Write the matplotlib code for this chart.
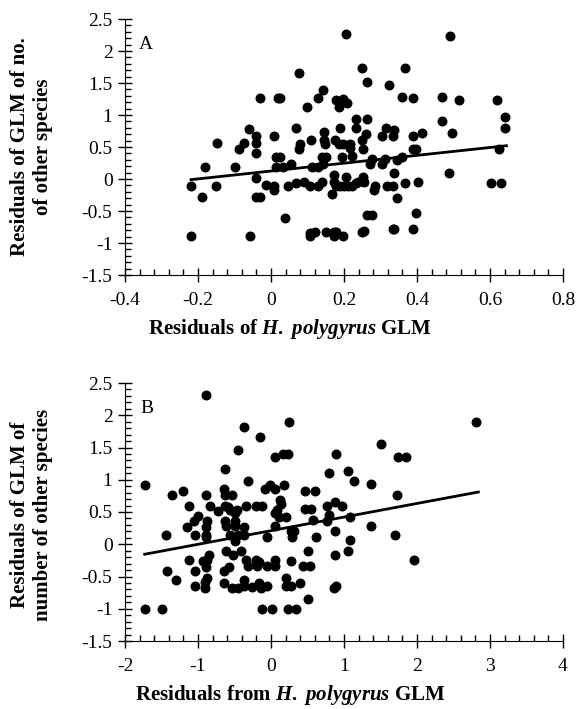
import numpy as np
import matplotlib
matplotlib.use("Agg")
import matplotlib.pyplot as plt
from matplotlib.ticker import MultipleLocator

plt.rcParams['font.family'] = 'Liberation Serif'
plt.rcParams['mathtext.fontset'] = 'custom'
plt.rcParams['mathtext.it'] = 'Liberation Serif:italic:bold'
plt.rcParams['mathtext.rm'] = 'Liberation Serif:bold'

# panel A : residuals of H. polygyrus GLM vs residuals of no. of other species
xa = [0.205, 0.49, 0.077, 0.25, 0.367, 0.263, 0.322, -0.03, 0.018, 0.025, 0.142, 0.128, 0.099,
      0.179, 0.196, 0.209, 0.186, 0.36, 0.389, 0.469, 0.514, 0.62, 0.64, 0.64, 0.469, 0.495,
      0.234, 0.263, 0.234, 0.315, 0.338, 0.304, 0.333, 0.389, 0.414, 0.26, 0.249, 0.189, 0.069,
      0.146, -0.06, -0.042, -0.042, 0.009, -0.075, -0.149, -0.089, -0.042, 0.109, 0.08, 0.077,
      0.149, 0.146, 0.175, 0.186, 0.196, 0.216, 0.216, 0.252, 0.223, 0.194, 0.139, 0.15, 0.013,
      0.025, 0.013, 0.032, 0.054, 0.113, 0.128, 0.142, -0.182, -0.1, 0.39, 0.397, 0.278, 0.271,
      0.311, 0.304, 0.344, 0.36, 0.624, 0.487, 0.338, -0.219, -0.19, -0.152, -0.042, -0.042,
      -0.031, -0.013, 0.009, 0.009, 0.047, 0.068, 0.091, 0.106, 0.128, 0.14, 0.172, 0.172, 0.179,
      0.19, 0.201, 0.212, 0.223, 0.234, 0.237, 0.252, 0.255, 0.205, 0.168, 0.285, 0.282, 0.318,
      0.333, 0.344, 0.367, 0.404, 0.602, 0.631, 0.039, -0.219, -0.057, 0.106, 0.106, 0.12, 0.15,
      0.172, 0.179, 0.172, 0.197, 0.248, 0.255, 0.263, 0.277, 0.333, 0.337, 0.389, 0.396]
ya = [2.27, 2.23, 1.66, 1.73, 1.73, 1.52, 1.47, 1.27, 1.27, 1.27, 1.39, 1.27, 1.13,
      1.23, 1.25, 1.18, 1.13, 1.28, 1.27, 1.28, 1.24, 1.24, 0.97, 0.79, 0.90, 0.72,
      0.93, 0.93, 0.79, 0.79, 0.77, 0.67, 0.67, 0.67, 0.72, 0.70, 0.61, 0.80, 0.79,
      0.74, 0.78, 0.67, 0.57, 0.67, 0.57, 0.57, 0.47, 0.40, 0.61, 0.55, 0.47,
      0.55, 0.61, 0.61, 0.55, 0.55, 0.55, 0.49, 0.47, 0.36, 0.34, 0.34, 0.34, 0.34,
      0.34, 0.19, 0.19, 0.24, 0.19, 0.19, 0.24, 0.19, 0.19, 0.47, 0.47, 0.32, 0.24,
      0.32, 0.24, 0.30, 0.34, 0.47, 0.09, 0.09, -0.11, -0.28, -0.11, 0.02, -0.28,
      -0.28, -0.09, -0.11, -0.17, -0.11, -0.07, -0.05, -0.11, -0.11, -0.05, 0.06, -0.05, -0.11,
      -0.11, -0.11, -0.11, -0.11, -0.07, -0.05, 0.03, -0.05, 0.03, -0.24, -0.11, -0.17, -0.11,
      -0.11, -0.30, -0.07, -0.05, -0.07, -0.07, -0.61, -0.89, -0.89, -0.85, -0.89, -0.83, -0.83,
      -0.83, -0.83, -0.89, -0.89, -0.83, -0.81, -0.57, -0.57, -0.78, -0.78, -0.78, -0.53]
fit_a_x = [-0.219, 0.645]
fit_a_y = [-0.01, 0.52]

# panel B : residuals from H. polygyrus GLM vs residuals of number of other species
xb = [-0.89, 0.25, 2.81, -0.37, -0.15, 1.51, -0.45, 0.05, 0.16, 0.23, 0.89, 1.74, 1.85,
      -0.63, 0.80, 1.05, 1.14, -0.32, 1.37, -1.72, -1.35, -1.21, -0.89, -0.65, -0.63, -0.54,
      -0.08, -0.01, 0.06, 0.18, 0.47, 0.60, 1.72, -1.13, -0.84, -0.63, -0.56, -0.47, -0.50,
      -0.59, -0.34, -0.21, -0.12, 0.12, 0.14, 0.08, 0.06, 0.11, 0.21, -0.73, 0.47, 0.55, 0.57,
      0.77, 0.88, 0.97, 0.79, 0.77, 1.08, 1.37, -1.0, -1.05, -0.87, -1.15, -1.04, -0.89, -0.89,
      -0.89, -1.44, -0.63, -0.61, -0.50, -0.50, -0.56, -0.50, -0.50, -0.45, -0.37, -0.37, 0.06,
      -0.06, 0.27, 0.31, 0.29, 0.62, 0.88, 1.08, 1.70, -1.13, -1.42, -1.30, -1.04, -1.04,
      -0.93, -0.87, -0.85, -0.89, -0.87, -0.91, -0.91, -0.61, -0.52, -0.41, -0.58, -0.65, -0.65,
      -0.54, -0.45, -0.37, -0.37, -0.26, -0.17, -0.14, -0.05, -0.34, -0.32, -0.21, -0.19, -0.17,
      -0.05, 0.06, 0.06, 0.27, 0.20, 0.20, 0.27, 0.40, 0.44, 0.53, 0.51, 0.88, 1.05, 0.86, 0.89,
      0.51, 1.96, -1.72, -1.50, -0.12, 0.01, 0.23, 0.34]
yb = [2.32, 1.89, 1.89, 1.82, 1.67, 1.56, 1.46, 1.36, 1.40, 1.40, 1.40, 1.36, 1.36,
      1.17, 1.10, 1.13, 0.98, 0.98, 0.94, 0.92, 0.77, 0.82, 0.77, 0.86, 0.77, 0.77,
      0.86, 0.92, 0.86, 0.92, 0.82, 0.82, 0.77, 0.59, 0.59, 0.59, 0.53, 0.53, 0.49,
      0.57, 0.59, 0.59, 0.59, 0.69, 0.63, 0.53, 0.49, 0.42, 0.42, 0.51, 0.55, 0.55, 0.38,
      0.59, 0.65, 0.59, 0.46, 0.36, 0.42, 0.28, 0.44, 0.36, 0.36, 0.26, 0.15, 0.26, 0.15,
      0.11, 0.15, 0.36, 0.28, 0.36, 0.28, 0.15, 0.11, 0.05, 0.15, 0.26, 0.15, 0.28,
      0.11, 0.20, 0.20, 0.11, 0.11, 0.20, 0.07, 0.15, -0.24, -0.41, -0.56, -0.41, -0.64,
      -0.26, -0.24, -0.16, -0.35, -0.52, -0.58, -0.68, -0.10, -0.16, -0.10, -0.35, -0.41, -0.60,
      -0.68, -0.68, -0.56, -0.64, -0.66, -0.60, -0.68, -0.64, -0.24, -0.33, -0.24, -0.33, -0.28,
      -0.33, -0.24, -0.33, -0.26, -0.52, -0.64, -0.64, -0.60, -0.33, -0.33, -0.10, -0.16, -0.10, -0.68, -0.64,
      -0.85, -0.24, -1.01, -1.01, -1.01, -1.01, -1.01, -1.01]
fit_b_x = [-1.73, 2.84]
fit_b_y = [-0.155, 0.81]

fig = plt.figure(figsize=(5.76, 7.09), dpi=100)
ax1 = fig.add_axes([125/576, 434/709, 438/576, 256/709])
ax2 = fig.add_axes([125/576, 68/709, 438/576, 258/709])


def style(ax, xlim, xmajor, xminor):
    ax.set_xlim(*xlim)
    ax.set_ylim(-1.5, 2.5)
    ax.xaxis.set_major_locator(MultipleLocator(xmajor))
    ax.xaxis.set_minor_locator(MultipleLocator(xminor))
    ax.yaxis.set_major_locator(MultipleLocator(0.5))
    ax.yaxis.set_minor_locator(MultipleLocator(0.1))
    ax.spines['top'].set_visible(False)
    ax.spines['right'].set_visible(False)
    ax.tick_params(which='major', direction='inout', length=10, width=1, labelsize=14)
    ax.tick_params(axis='y', which='major', pad=4)
    ax.tick_params(axis='x', which='major', pad=7.5)
    ax.tick_params(which='minor', direction='in', length=4, width=1)
    ax.yaxis.set_major_formatter(plt.FuncFormatter(lambda v, p: ('%g' % v)))
    ax.xaxis.set_major_formatter(plt.FuncFormatter(lambda v, p: ('%g' % v)))


ax1.scatter(xa, ya, s=38, color='black', zorder=3, clip_on=False)
ax1.plot(fit_a_x, fit_a_y, color='black', lw=2)
style(ax1, (-0.4, 0.8), 0.2, 0.04)
ax1.text(0.048, 0.90, 'A', transform=ax1.transAxes, fontsize=14, va='center', ha='center')
ax1.set_xlabel(r'Residuals of $H.\ polygyrus$ GLM', fontsize=15, fontweight='bold')
ax1.xaxis.set_label_coords(0.377, -0.165)
ax1.set_ylabel('Residuals of GLM of no.\nof other species', fontsize=15, fontweight='bold', linespacing=1.2)
ax1.yaxis.set_label_coords(-0.165, 0.5)

ax2.scatter(xb, yb, s=38, color='black', zorder=3, clip_on=False)
ax2.plot(fit_b_x, fit_b_y, color='black', lw=2)
style(ax2, (-2, 4), 1, 0.2)
ax2.text(0.05, 0.90, 'B', transform=ax2.transAxes, fontsize=14, va='center', ha='center')
ax2.set_xlabel(r'Residuals from $H.\ polygyrus$ GLM', fontsize=15, fontweight='bold')
ax2.xaxis.set_label_coords(0.377, -0.163)
ax2.set_ylabel('Residuals of GLM of\nnumber of other species', fontsize=15, fontweight='bold', linespacing=1.2)
ax2.yaxis.set_label_coords(-0.165, 0.49)

fig.savefig('out.png', dpi=100)
